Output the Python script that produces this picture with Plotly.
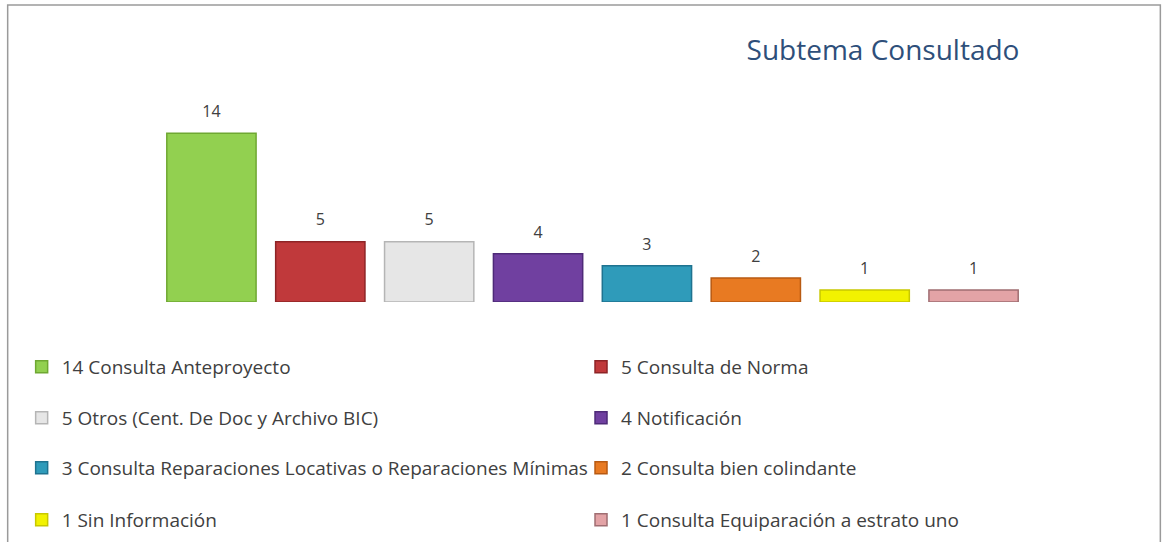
import plotly.graph_objects as go

categories = [
    "Consulta Anteproyecto",
    "Consulta de Norma",
    "Otros (Cent. De Doc y Archivo BIC)",
    "Notificación",
    "Consulta Reparaciones Locativas o Reparaciones Mínimas",
    "Consulta bien colindante",
    "Sin Información",
    "Consulta Equiparación a estrato uno",
]
values = [14, 5, 5, 4, 3, 2, 1, 1]
colors = ["#92D050", "#C0393B", "#E6E6E6", "#7040A0", "#2F9BBA", "#E87A22", "#F2F200", "#E3A3A6"]
edges = ["#6FA832", "#8E2426", "#B5B5B5", "#4E2A78", "#1F7390", "#B85A12", "#C8C800", "#A06E72"]

W, H = 1164, 542
L, R, T, B = 156.5, 135.5, 109, 240
pw, ph = W - L - R, H - T - B

def px2x(px):
    return (px - L) / pw

def py2y(py):
    return (H - B - py) / ph

fig = go.Figure()
legend_ids = ["legend"] + [f"legend{k}" for k in range(2, 9)]
for i, (c, v) in enumerate(zip(categories, values)):
    fig.add_trace(go.Bar(
        x=[i], y=[v], name=f"{v} {c}",
        marker=dict(color=colors[i], line=dict(color=edges[i], width=1.5)),
        width=0.82,
        legend=legend_ids[i],
        hoverinfo="name+y",
    ))

fig.add_trace(go.Scatter(
    x=list(range(len(values))), y=values, mode="markers+text",
    text=[str(v) for v in values], textposition="top center",
    marker=dict(size=18, opacity=0), cliponaxis=False,
    textfont=dict(family="Open Sans", size=16, color="#404040"),
    showlegend=False, hoverinfo="skip",
))

row_y = [367, 418, 468, 520]
col_x = [21, 581]
legends = {}
for i, lid in enumerate(legend_ids):
    legends[lid] = dict(
        orientation="v", x=px2x(col_x[i % 2]), xanchor="left",
        y=py2y(row_y[i // 2]), yanchor="middle",
        font=dict(family="Open Sans", size=19, color="#404040"),
        bgcolor="rgba(0,0,0,0)",
    )

fig.update_layout(
    width=W, height=H,
    margin=dict(l=L, r=R, t=T, b=B, autoexpand=False),
    paper_bgcolor="white", plot_bgcolor="white",
    barmode="overlay",
    showlegend=True,
    xaxis=dict(visible=False, range=[-0.5, len(values) - 0.5]),
    yaxis=dict(visible=False, range=[0, 16]),
    title=dict(text="Subtema Consultado", x=883 / W, xanchor="center",
               y=1 - 50 / H, yanchor="middle",
               font=dict(family="Open Sans", size=28, color="#2E4F7A")),
    shapes=[dict(type="rect", xref="paper", yref="paper",
                 x0=px2x(7), x1=px2x(1161), y0=py2y(560), y1=py2y(5),
                 line=dict(color="#9A9A9A", width=1.5), fillcolor="rgba(0,0,0,0)",
                 layer="below")],
    **legends,
)

fig.write_html("out.html", config={"displayModeBar": False},
               post_script="document.body.style.margin='0';")
